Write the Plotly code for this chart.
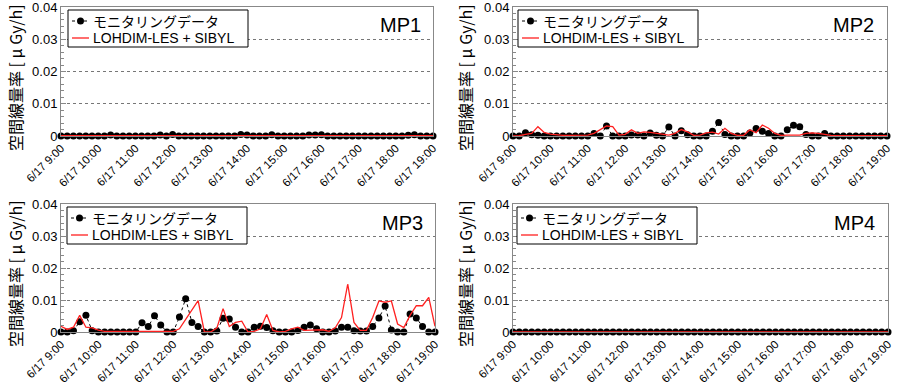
import pandas as pd
import plotly.graph_objects as go

# ---- data ----
times = pd.date_range("2011-06-17 09:00", "2011-06-17 19:00", freq="10min")
tick_times = pd.date_range("2011-06-17 09:00", "2011-06-17 19:00", freq="60min")
tick_labels = ["6/17 9:00", "6/17 10:00", "6/17 11:00", "6/17 12:00", "6/17 13:00",
               "6/17 14:00", "6/17 15:00", "6/17 16:00", "6/17 17:00", "6/17 18:00",
               "6/17 19:00"]
panel_names = ["MP1", "MP2", "MP3", "MP4"]
obs_name = "モニタリングデータ"
sim_name = "LOHDIM-LES + SIBYL"
y_title = "空間線量率 [ μ Gy/h]"
y_ticks = [0, 0.01, 0.02, 0.03, 0.04]
y_ticklabels = ["0", "0.01", "0.02", "0.03", "0.04"]

mp1_obs = [0, 0, 0, 0, 0, 0, 0, 0, 0.0003, 0,
           0, 0, 0, 0, 0, 0, 0.0003, 0, 0.0005, 0,
           0, 0, 0, 0, 0, 0, 0, 0, 0, 0.0005,
           0.0003, 0, 0, 0, 0.0004, 0, 0, 0, 0, 0,
           0.0003, 0.0003, 0.0004, 0, 0, 0, 0, 0, 0, 0,
           0, 0, 0, 0, 0, 0, 0.0002, 0.0004, 0, 0, 0]
mp1_sim = [0.0001] * 61

mp2_obs = [0, 0, 0.001, 0.0004, 0.0002, 0, 0, 0, 0, 0,
           0, 0, 0, 0.0008, 0, 0.0031, 0, 0, 0, 0.0003,
           0.0003, 0, 0.0009, 0.0002, 0, 0.0028, 0, 0.0016, 0.0004, 0,
           0, 0, 0.0015, 0.0042, 0.0005, 0, 0, 0, 0.0009, 0.0023,
           0.0015, 0.0008, 0, 0, 0.0019, 0.0033, 0.0029, 0.0005, 0, 0,
           0.0008, 0, 0, 0, 0, 0, 0, 0, 0, 0, 0]
mp2_sim = [0, 0.0001, 0.0005, 0.0008, 0.0029, 0.0011, 0.0006, 0.0003, 0.0002, 0.0002,
           0.0002, 0.0002, 0.0003, 0.0008, 0.002, 0.0031, 0.0029, 0.0003, 0.0005, 0.0019,
           0.0008, 0.0013, 0.0011, 0.0008, 0.0005, 0.0003, 0.0008, 0.002, 0.0013, 0.0002,
           0.0003, 0.001, 0.0012, 0.0006, 0.0024, 0.0008, 0.0002, 0.0002, 0.0019, 0.001,
           0.0034, 0.0024, 0.0008, 0.0002, 0.0003, 0.0003, 0.0003, 0.0008, 0.001, 0.0008,
           0.0004, 0.0002, 0.0001, 0.0001, 0.0001, 0.0001, 0.0001, 0.0001, 0.0001, 0.0001, 0.0001]

mp3_obs = [0, 0, 0.0004, 0.0032, 0.0052, 0.0004, 0, 0, 0, 0,
           0, 0, 0, 0.0029, 0.0017, 0.0051, 0.0022, 0, 0, 0.0047,
           0.0104, 0.003, 0.0017, 0, 0, 0.0003, 0.0043, 0.0041, 0.0015, 0,
           0, 0.0015, 0.0018, 0.0014, 0.0004, 0, 0, 0, 0.0005, 0.0015,
           0.0022, 0.001, 0, 0, 0.0003, 0.0015, 0.0015, 0.0004, 0.0003, 0.0003,
           0.0017, 0.0044, 0.0081, 0.0006, 0, 0, 0.0056, 0.0044, 0.0017, 0, 0]
mp3_sim = [0.0018, 0.0008, 0.0015, 0.0052, 0.0015, 0.0013, 0.0006, 0.0002, 0.0002, 0.0002,
           0.0002, 0.0002, 0.0002, 0.0003, 0.0003, 0.0004, 0.0004, 0.0003, 0.0002, 0.001,
           0.004, 0.007, 0.0098, 0, 0, 0.0012, 0.0073, 0.0017, 0.003, 0.0034,
           0, 0.0002, 0.001, 0.0055, 0.0005, 0, 0.0002, 0.001, 0.0015, 0.0005,
           0.0005, 0.0007, 0.0007, 0.0002, 0.0013, 0.0045, 0.015, 0.003, 0.0005, 0.0005,
           0.0045, 0.0097, 0.0093, 0.0097, 0.0025, 0.0014, 0.0052, 0.0082, 0.0082, 0.0108, 0.0018]

mp4_obs = [0] * 61
mp4_sim = [0] * 61

obs_all = [mp1_obs, mp2_obs, mp3_obs, mp4_obs]
sim_all = [mp1_sim, mp2_sim, mp3_sim, mp4_sim]

# ---- layout geometry (pixels) ----
W, H = 900, 386
panels = [  # x0, x1, ytop, ybottom
    (61, 433, 7, 136),
    (513, 887, 7, 136),
    (61, 435, 204, 332),
    (513, 888, 204, 332),
]
legend_pos = [(68, 10), (518, 10), (67, 207), (517, 207)]
LEG_W, LEG_H = 180, 37
label_pos = [(423, 25), (876, 25), (425, 223), (877, 223)]
ytitle_pos = [(15, 78), (465, 78), (15, 274), (465, 274)]

FONT = "Liberation Sans, Arial, Noto Sans CJK JP, sans-serif"
JFONT = "Noto Sans CJK JP, Liberation Sans, sans-serif"

OBS_COLOR = "black"
SIM_COLOR = "#ff2020"


def px(x):
    return x / W


def py(y):
    return 1 - y / H


fig = go.Figure()
annotations = []
shapes = []
layout = dict(
    width=W, height=H, margin=dict(l=0, r=0, t=0, b=0, autoexpand=False),
    paper_bgcolor="white", plot_bgcolor="white",
    font=dict(family=FONT, color="black", size=13),
    showlegend=False,
)

for k in range(4):
    sfx = "" if k == 0 else str(k + 1)
    fig.add_trace(go.Scatter(
        x=times, y=obs_all[k], name=obs_name, mode="lines+markers",
        line=dict(color=OBS_COLOR, width=1, dash="dot"),
        marker=dict(color=OBS_COLOR, size=7),
        xaxis="x" + sfx, yaxis="y" + sfx, cliponaxis=False,
    ))
    fig.add_trace(go.Scatter(
        x=times, y=sim_all[k], name=sim_name, mode="lines",
        line=dict(color=SIM_COLOR, width=1.3),
        xaxis="x" + sfx, yaxis="y" + sfx, cliponaxis=False,
    ))
    x0, x1, yt, yb = panels[k]
    layout["xaxis" + sfx] = dict(
        domain=[px(x0), px(x1)], anchor="y" + sfx, automargin=False,
        range=[times[0], times[-1]],
        tickvals=list(tick_times), ticktext=tick_labels, tickangle=-45,
        tickfont=dict(size=11.5, family=FONT), ticklabeloverflow="allow",
        showgrid=False, zeroline=False, ticks="",
        showline=True, linecolor="#888888", linewidth=1, mirror=True,
    )
    layout["yaxis" + sfx] = dict(
        domain=[py(yb), py(yt)], anchor="x" + sfx, automargin=False,
        range=[0, 0.04], tickvals=y_ticks, ticktext=y_ticklabels,
        tickfont=dict(size=13, family=FONT), ticklabeloverflow="allow",
        showgrid=True, gridcolor="#777777", griddash="dot", gridwidth=1,
        zeroline=False, ticks="inside", ticklen=5, tickcolor="#888888",
        minor=dict(dtick=0.002, ticks="inside", ticklen=3, tickcolor="#888888", showgrid=False),
        showline=True, linecolor="#888888", linewidth=1, mirror=True,
    )

    # legend box (drawn as decoration, text kept as real text)
    lx, ly = legend_pos[k]
    shapes.append(dict(type="rect", xref="paper", yref="paper",
                       x0=px(lx), x1=px(lx + LEG_W), y0=py(ly + LEG_H), y1=py(ly),
                       line=dict(color="black", width=1), fillcolor="white", layer="above"))
    r1, r2 = ly + 11, ly + 28
    shapes.append(dict(type="line", xref="paper", yref="paper",
                       x0=px(lx + 4), x1=px(lx + 21), y0=py(r1), y1=py(r1),
                       line=dict(color=OBS_COLOR, width=1, dash="dot"), layer="above"))
    shapes.append(dict(type="circle", xref="paper", yref="paper",
                       x0=px(lx + 9), x1=px(lx + 16), y0=py(r1 + 3.5), y1=py(r1 - 3.5),
                       line=dict(color=OBS_COLOR, width=0), fillcolor=OBS_COLOR, layer="above"))
    shapes.append(dict(type="line", xref="paper", yref="paper",
                       x0=px(lx + 4), x1=px(lx + 21), y0=py(r2), y1=py(r2),
                       line=dict(color=SIM_COLOR, width=1.3), layer="above"))
    annotations.append(dict(text=obs_name, x=px(lx + 23), y=py(r1), xref="paper", yref="paper",
                            xanchor="left", yanchor="middle", showarrow=False,
                            font=dict(size=14, family=JFONT)))
    annotations.append(dict(text=sim_name, x=px(lx + 23), y=py(r2), xref="paper", yref="paper",
                            xanchor="left", yanchor="middle", showarrow=False,
                            font=dict(size=14, family=FONT)))

    mx, my = label_pos[k]
    annotations.append(dict(
        text=panel_names[k], x=px(mx), y=py(my), xref="paper", yref="paper",
        xanchor="right", yanchor="middle", showarrow=False,
        font=dict(size=20, family=FONT),
    ))
    tx, ty = ytitle_pos[k]
    annotations.append(dict(
        text=y_title, x=px(tx), y=py(ty), xref="paper", yref="paper",
        xanchor="center", yanchor="middle", showarrow=False, textangle=-90,
        font=dict(size=16, family=JFONT),
    ))

layout["annotations"] = annotations
layout["shapes"] = shapes
fig.update_layout(**layout)
fig.write_html("out.html", config={"displayModeBar": False},
               post_script="document.body.style.margin='0';")
